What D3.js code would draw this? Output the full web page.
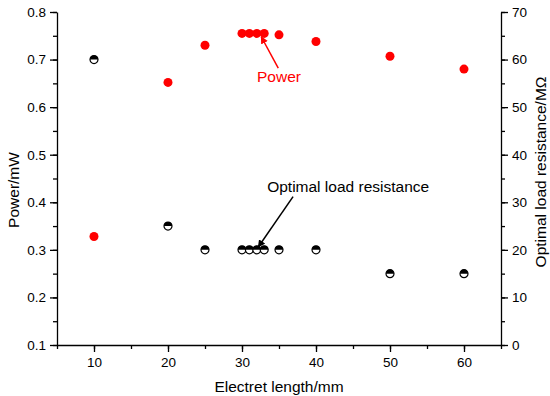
<!DOCTYPE html>
<html>
<head>
<meta charset="utf-8">
<script src="https://cdn.jsdelivr.net/npm/d3@7"></script>
<style>
  body { margin: 0; background: #fff; }
  svg { font-family: "Liberation Sans", Arial, sans-serif; }
  .axis path, .axis line { stroke: #000; stroke-width: 1.3; }
  .axis text { font-size: 13.5px; fill: #000; }
</style>
</head>
<body>
<div id="chart"></div>
<script>
// electret length (mm)
const lengths = [10, 20, 25, 30, 31, 32, 33, 35, 40, 50, 60];
// power (mW), left axis
const power = [0.328, 0.652, 0.730, 0.755, 0.755, 0.755, 0.755, 0.752, 0.738, 0.707, 0.680];
// optimal load resistance (MΩ), right axis
const resistance = [60, 25, 20, 20, 20, 20, 20, 20, 20, 15, 15];

const xTicks = [10, 20, 30, 40, 50, 60];
const powerTicks = [0.1, 0.2, 0.3, 0.4, 0.5, 0.6, 0.7, 0.8];
const resTicks = [0, 10, 20, 30, 40, 50, 60, 70];

// annotations in data units (x, power)
const powerNote = { text: "Power", x: 35, y: 0.653, from: [34.9, 0.682], to: [32.6, 0.748] };
const resNote = { text: "Optimal load resistance", x: 33.4, y: 0.422, from: [36.9, 0.412], to: [32.2, 0.306] };

const W = 550, H = 396;
const margin = { top: 12, right: 49, bottom: 51, left: 57 };
const width = W - margin.left - margin.right;
const height = H - margin.top - margin.bottom;
const red = "#ff0000";

const svg = d3.select("#chart").append("svg").attr("width", W).attr("height", H);
const defs = svg.append("defs");
defs.append("marker")
  .attr("id", "arrow-red").attr("viewBox", "0 0 10 10").attr("refX", 9).attr("refY", 5)
  .attr("markerWidth", 5).attr("markerHeight", 5).attr("orient", "auto")
  .append("path").attr("d", "M0,0L10,5L0,10z").attr("fill", red);
defs.append("marker")
  .attr("id", "arrow-black").attr("viewBox", "0 0 10 10").attr("refX", 9).attr("refY", 5)
  .attr("markerWidth", 5).attr("markerHeight", 5).attr("orient", "auto")
  .append("path").attr("d", "M0,0L10,5L0,10z").attr("fill", "#000");

const g = svg.append("g").attr("transform", `translate(${margin.left},${margin.top})`);

const x = d3.scaleLinear().domain([5, 65]).range([0, width]);
const yP = d3.scaleLinear().domain([0.1, 0.8]).range([height, 0]);
const yR = d3.scaleLinear().domain([0, 70]).range([height, 0]);

// minor ticks
g.append("g").attr("class", "axis").attr("transform", `translate(0,${height})`)
  .call(d3.axisBottom(x).tickValues(d3.range(5, 66, 5)).tickSize(4).tickFormat(""))
  .call(s => s.select(".domain").remove());
g.append("g").attr("class", "axis")
  .call(d3.axisLeft(yP).tickValues(d3.range(0.1, 0.81, 0.05)).tickSize(4).tickFormat(""))
  .call(s => s.select(".domain").remove());
g.append("g").attr("class", "axis").attr("transform", `translate(${width},0)`)
  .call(d3.axisRight(yR).tickValues(d3.range(0, 71, 5)).tickSize(4).tickFormat(""))
  .call(s => s.select(".domain").remove());

// major axes
g.append("g").attr("class", "axis").attr("transform", `translate(0,${height})`)
  .call(d3.axisBottom(x).tickValues(xTicks).tickSizeInner(7).tickSizeOuter(0).tickPadding(5));
g.append("g").attr("class", "axis")
  .call(d3.axisLeft(yP).tickValues(powerTicks).tickSizeInner(7).tickSizeOuter(0).tickPadding(4).tickFormat(d3.format(".1f")));
g.append("g").attr("class", "axis").attr("transform", `translate(${width},0)`)
  .call(d3.axisRight(yR).tickValues(resTicks).tickSizeInner(7).tickSizeOuter(0).tickPadding(4));

// axis titles
svg.append("text").attr("x", margin.left + width / 2).attr("y", 392)
  .attr("text-anchor", "middle").attr("font-size", 15.5).text("Electret length/mm");
svg.append("text").attr("transform", "translate(19,190) rotate(-90)")
  .attr("text-anchor", "middle").attr("font-size", 15.5).text("Power/mW");
svg.append("text").attr("transform", "translate(546,172) rotate(-90)")
  .attr("text-anchor", "middle").attr("font-size", 15.5).text("Optimal load resistance/MΩ");

// power points
g.selectAll(".pw").data(lengths).enter().append("circle")
  .attr("class", "pw")
  .attr("cx", d => x(d))
  .attr("cy", (d, i) => yP(power[i]))
  .attr("r", 4.5)
  .attr("fill", red);

// resistance points: half-filled circles (top black)
const r = 4;
const res = g.selectAll(".rs").data(lengths).enter().append("g")
  .attr("class", "rs")
  .attr("transform", (d, i) => `translate(${x(d)},${yR(resistance[i])})`);
res.append("circle").attr("r", r).attr("fill", "#fff").attr("stroke", "#000").attr("stroke-width", 1.2);
res.append("path").attr("d", `M${-r},0A${r},${r} 0 0 1 ${r},0Z`).attr("fill", "#000");

// annotations
g.append("line")
  .attr("x1", x(powerNote.from[0])).attr("y1", yP(powerNote.from[1]))
  .attr("x2", x(powerNote.to[0])).attr("y2", yP(powerNote.to[1]))
  .attr("stroke", red).attr("stroke-width", 1.5).attr("marker-end", "url(#arrow-red)");
g.append("text").attr("x", x(powerNote.x)).attr("y", yP(powerNote.y))
  .attr("text-anchor", "middle").attr("font-size", 15.5).attr("fill", red).text(powerNote.text);

g.append("line")
  .attr("x1", x(resNote.from[0])).attr("y1", yP(resNote.from[1]))
  .attr("x2", x(resNote.to[0])).attr("y2", yP(resNote.to[1]))
  .attr("stroke", "#000").attr("stroke-width", 1.5).attr("marker-end", "url(#arrow-black)");
g.append("text").attr("x", x(resNote.x)).attr("y", yP(resNote.y))
  .attr("font-size", 15.5).attr("fill", "#000").text(resNote.text);
</script>
</body>
</html>
